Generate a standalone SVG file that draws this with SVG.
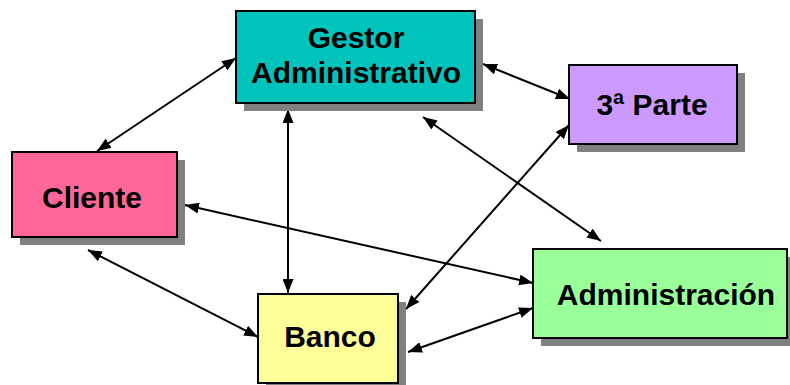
<svg xmlns="http://www.w3.org/2000/svg" width="790" height="385" viewBox="0 0 790 385">
  <defs>
    <marker id="head" viewBox="0 0 14 11" refX="14" refY="5.5" markerWidth="14" markerHeight="11" markerUnits="userSpaceOnUse" orient="auto-start-reverse">
      <path d="M0,0 L14,5.5 L0,11 z" fill="#000"/>
    </marker>
    <style>
      .shadow { fill: #808080; }
      .box { stroke: #000; stroke-width: 2; }
      .label { font-family: "Liberation Sans", Arial, sans-serif; font-weight: bold; font-size: 30px; fill: #000; text-anchor: middle; }
      .link { stroke: #000; stroke-width: 2; fill: none; marker-start: url(#head); marker-end: url(#head); }
    </style>
  </defs>
  <rect width="790" height="385" fill="#fff"/>

  <!-- connectors -->
  <g id="connectors">
    <line class="link" x1="97" y1="151" x2="236" y2="58"/>
    <line class="link" x1="288" y1="109" x2="288" y2="293"/>
    <line class="link" x1="483" y1="64" x2="570" y2="99"/>
    <line class="link" x1="423" y1="117" x2="601" y2="241"/>
    <line class="link" x1="569" y1="125" x2="406" y2="309"/>
    <line class="link" x1="185" y1="205" x2="533" y2="283"/>
    <line class="link" x1="88" y1="250" x2="258" y2="337"/>
    <line class="link" x1="408" y1="352" x2="533" y2="308"/>
  </g>

  <g id="gestor">
    <rect class="shadow" x="244" y="19" width="239" height="92"/>
    <rect class="box" x="236" y="11" width="239" height="92" fill="#00C4BC"/>
    <text class="label" x="356" y="48">Gestor</text>
    <text class="label" x="356" y="83">Administrativo</text>
  </g>

  <g id="tercera-parte">
    <rect class="shadow" x="577" y="73" width="168" height="79"/>
    <rect class="box" x="569" y="65" width="168" height="79" fill="#CC99FF"/>
    <text class="label" x="652" y="115">3ª Parte</text>
  </g>

  <g id="cliente">
    <rect class="shadow" x="20" y="160" width="165" height="85"/>
    <rect class="box" x="12" y="152" width="165" height="85" fill="#FF6699"/>
    <text class="label" x="92" y="208">Cliente</text>
  </g>

  <g id="banco">
    <rect class="shadow" x="266" y="302" width="140" height="90"/>
    <rect class="box" x="258" y="294" width="140" height="89" fill="#FFFF99"/>
    <text class="label" x="330" y="347">Banco</text>
  </g>

  <g id="administracion">
    <rect class="shadow" x="541" y="257" width="260" height="89"/>
    <rect class="box" x="533" y="249" width="254" height="89" fill="#99FF99"/>
    <text class="label" x="666" y="305">Administración</text>
  </g>
</svg>
